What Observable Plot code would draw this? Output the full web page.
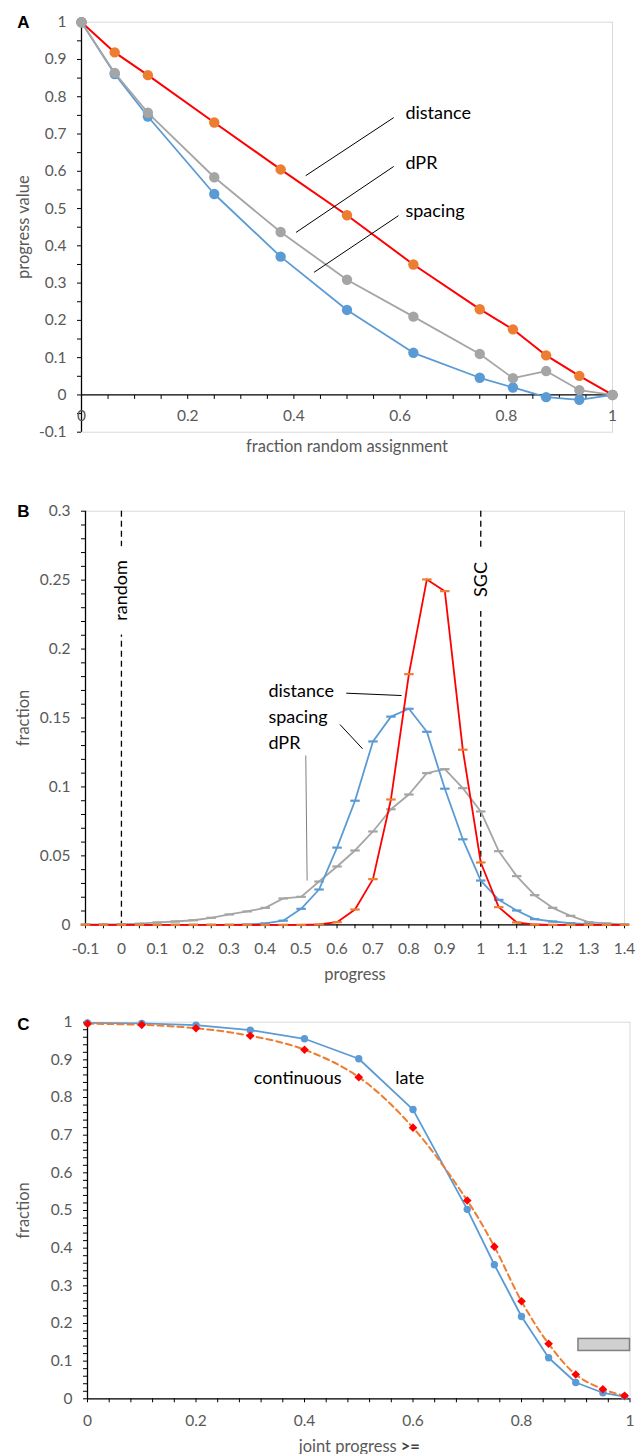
<!DOCTYPE html>
<html><head><meta charset="utf-8">
<script src="https://cdn.jsdelivr.net/npm/d3@7"></script>
<script src="https://cdn.jsdelivr.net/npm/@observablehq/plot@0.6"></script>
<style>
body{margin:0;background:#fff;}
#wrap{width:644px;}
#wrap svg{display:block;}
</style></head><body><div id="wrap"></div>
<script>
// ---------- Panel A data ----------
const fracRandom = [0, 0.0625, 0.125, 0.25, 0.375, 0.5, 0.625, 0.75, 0.8125, 0.875, 0.9375, 1];
const aDistance  = [1, 0.919, 0.858, 0.731, 0.605, 0.482, 0.350, 0.230, 0.176, 0.106, 0.051, 0];
const aDPR       = [1, 0.864, 0.757, 0.584, 0.437, 0.309, 0.210, 0.110, 0.045, 0.064, 0.013, 0];
const aSpacing   = [1, 0.861, 0.747, 0.539, 0.371, 0.228, 0.113, 0.046, 0.020, -0.006, -0.013, 0];
const aLabels  = [{text: "distance", x: 0.610, y: 0.755}, {text: "dPR", x: 0.610, y: 0.621}, {text: "spacing", x: 0.610, y: 0.492}];
const aLeaders = [{x1: 0.588, y1: 0.744, x2: 0.422, y2: 0.588}, {x1: 0.588, y1: 0.613, x2: 0.404, y2: 0.436}, {x1: 0.597, y1: 0.481, x2: 0.438, y2: 0.329}];

// ---------- Panel B data ----------
const bProgress = [-0.1,-0.05,0,0.05,0.1,0.15,0.2,0.25,0.3,0.35,0.4,0.45,0.5,0.55,0.6,0.65,0.7,0.75,0.8,0.85,0.9,0.95,1,1.05,1.1,1.15,1.2,1.25,1.3,1.35,1.4];
const bDistance = [0,0,0,0,0,0,0,0,0,0,0,0,0,0.0003,0.0019,0.0111,0.0331,0.0909,0.1818,0.2505,0.2420,0.1270,0.0452,0.0128,0.0017,0.0002,0,0,0,0,0];
const bSpacing  = [0,0,0,0,0,0,0,0,0,0.0002,0.0010,0.0030,0.0116,0.0256,0.0560,0.0900,0.1330,0.1510,0.1567,0.1400,0.0987,0.0620,0.0321,0.0181,0.0104,0.0041,0.0024,0.0012,0.0004,0,0];
const bDPR      = [0.0002,0.0003,0.0004,0.0008,0.0017,0.0024,0.0033,0.0051,0.0075,0.0097,0.0123,0.0191,0.0203,0.0314,0.0423,0.0539,0.0677,0.0838,0.0945,0.1100,0.1129,0.0991,0.0822,0.0534,0.0353,0.0215,0.0123,0.0065,0.0019,0.0010,0.0003];
const bRefLines = [{x: 0, label: "random", y: 0.2425}, {x: 1, label: "SGC", y: 0.2505}];
const bLabels  = [{text: "distance", x: 0.409, y: 0.1694}, {text: "spacing", x: 0.409, y: 0.1506}, {text: "dPR", x: 0.409, y: 0.1317}];
const bLeaders = [{x1: 0.6256, y1: 0.168, x2: 0.7795, y2: 0.1663, c: "black"}, {x1: 0.608, y1: 0.1453, x2: 0.671, y2: 0.1277, c: "black"}, {x1: 0.513, y1: 0.1228, x2: 0.5168, y2: 0.0321, c: "#7f7f7f"}];

// ---------- Panel C data ----------
const cProgress   = [0, 0.1, 0.2, 0.3, 0.4, 0.5, 0.6, 0.7, 0.75, 0.8, 0.85, 0.9, 0.95, 0.99];
const cLate       = [0.998, 0.997, 0.992, 0.979, 0.956, 0.903, 0.768, 0.503, 0.356, 0.2185, 0.109, 0.0433, 0.016, 0.006];
const cContinuous = [0.996, 0.993, 0.984, 0.964, 0.927, 0.854, 0.720, 0.5265, 0.404, 0.259, 0.146, 0.0645, 0.0255, 0.008];
const cLabels = [{text: "continuous", x: 0.3875, y: 0.850}, {text: "late", x: 0.594, y: 0.850}];
const cBox = [{x1: 0.905, x2: 1.0, y1: 0.127, y2: 0.159}];

// ---------- helpers ----------
const W = 644;
const font = "Lato, 'Open Sans', sans-serif";
const gray = "#595959";
const cBlue = "#5b9bd5", cOrange = "#ed7d31", cGray = "#a5a5a5", cRed = "#ff0000";
const tickFS = 15.5, titleFS = 16.5, noteFS = 18;
const fmt = d => String(Math.round(d * 100) / 100);
const ticks = (a, b, step) => d3.range(Math.round((b - a) / step) + 1).map(i => Math.round((a + i * step) * 1000) / 1000);
const lab = every => d => (Math.abs(Math.round(d * 100) % Math.round(every * 100)) === 0 ? fmt(d) : "");
const tickDown = {draw(ctx) { ctx.moveTo(0, 0); ctx.lineTo(0, 4); }};
const dashSym = {draw(ctx) { ctx.moveTo(-4.75, -1.1); ctx.lineTo(4.75, -1.1); ctx.lineTo(4.75, 1.1); ctx.lineTo(-4.75, 1.1); ctx.closePath(); }};
const diamondSym = {draw(ctx) { const s = 4.3; ctx.moveTo(0, -s); ctx.lineTo(s, 0); ctx.lineTo(0, s); ctx.lineTo(-s, 0); ctx.closePath(); }};
const style = {fontFamily: font, fontSize: tickFS + "px", background: "white", overflow: "visible"};

function panelLetter(t, dx, dy) {
  return Plot.text([t], {frameAnchor: "top-left", dx, dy, fontWeight: "bold", fontSize: 17, fill: "black",
    fontFamily: "'Liberation Sans', Arial, sans-serif", lineAnchor: "middle", textAnchor: "middle"});
}
function yTitle(t, dx) {
  return Plot.text([t], {frameAnchor: "left", dx, rotate: -90, fill: gray, fontSize: titleFS, lineAnchor: "middle", textAnchor: "middle"});
}

// ---------- Panel A ----------
const dataA = fracRandom.map((x, i) => ({x, distance: aDistance[i], dpr: aDPR[i], spacing: aSpacing[i]}));
const xTicksA = ticks(0, 1, 0.05);
const A = Plot.plot({
  width: W, height: 470, marginLeft: 81, marginRight: 32, marginTop: 21.7, marginBottom: 38.3,
  style,
  x: {domain: [0, 1], axis: null}, y: {domain: [-0.1, 1]},
  marks: [
    Plot.frame({stroke: "#d9d9d9"}),
    Plot.ruleY([0], {stroke: "black", strokeWidth: 1.3}),
    Plot.ruleX([0], {stroke: "black", strokeWidth: 1.3}),
    Plot.axisY({ticks: ticks(-0.1, 1, 0.05), tickSize: 4, tickPadding: 11, tickFormat: lab(0.1), fill: gray, stroke: "black", label: null}),
    Plot.dot(xTicksA, {x: d => d, y: 0, symbol: tickDown, stroke: "black", fill: "none", strokeWidth: 1}),
    Plot.text(xTicksA.filter(d => lab(0.2)(d) !== ""), {x: d => d, y: 0, dy: 20.7, text: fmt, fill: gray, lineAnchor: "middle"}),
    Plot.line(dataA, {x: "x", y: "distance", stroke: cRed, strokeWidth: 2}),
    Plot.dot(dataA, {x: "x", y: "distance", r: 5.2, fill: cOrange}),
    Plot.line(dataA, {x: "x", y: "spacing", stroke: cBlue, strokeWidth: 1.8}),
    Plot.dot(dataA, {x: "x", y: "spacing", r: 5.2, fill: cBlue}),
    Plot.line(dataA, {x: "x", y: "dpr", stroke: cGray, strokeWidth: 1.8}),
    Plot.dot(dataA, {x: "x", y: "dpr", r: 5.2, fill: cGray}),
    Plot.link(aLeaders, {x1: "x1", y1: "y1", x2: "x2", y2: "y2", stroke: "black", strokeWidth: 1}),
    Plot.text(aLabels, {x: "x", y: "y", text: "text", textAnchor: "start", fill: "black", fontSize: noteFS}),
    yTitle("progress value", -58),
    Plot.text(["fraction random assignment"], {frameAnchor: "bottom", dy: 15, fill: gray, fontSize: titleFS, lineAnchor: "middle"}),
    panelLetter("A", -58, 0)
  ]
});

// ---------- Panel B ----------
const dataB = bProgress.map((x, i) => ({x, distance: bDistance[i], spacing: bSpacing[i], dpr: bDPR[i]}));
const B = Plot.plot({
  width: W, height: 530, marginLeft: 85, marginRight: 20, marginTop: 40.7, marginBottom: 75.7,
  style,
  x: {domain: [-0.1, 1.4]}, y: {domain: [0, 0.3]},
  marks: [
    Plot.frame({stroke: "#d9d9d9"}),
    Plot.ruleX(bRefLines, {x: "x", stroke: "black", strokeDasharray: "6,4", strokeWidth: 1.3}),
    Plot.text(bRefLines, {x: "x", y: "y", text: "label", rotate: -90, fill: "black", stroke: "white", strokeWidth: 30, paintOrder: "stroke", fontSize: noteFS}),
    Plot.ruleX([-0.1], {stroke: "black", strokeWidth: 1.3}),
    Plot.ruleY([0], {stroke: "black", strokeWidth: 1.3}),
    Plot.axisY({ticks: ticks(0, 0.3, 0.01), tickSize: 4, tickPadding: 11, tickFormat: lab(0.05), fill: gray, stroke: "black", label: null}),
    Plot.axisX({ticks: ticks(-0.1, 1.4, 0.05), tickSize: 4, tickPadding: 13.8, tickFormat: lab(0.1), fill: gray, stroke: "black", label: null}),
    Plot.line(dataB, {x: "x", y: "dpr", stroke: cGray, strokeWidth: 1.8}),
    Plot.dot(dataB, {x: "x", y: "dpr", symbol: dashSym, fill: cGray}),
    Plot.line(dataB, {x: "x", y: "spacing", stroke: cBlue, strokeWidth: 1.8}),
    Plot.dot(dataB, {x: "x", y: "spacing", symbol: dashSym, fill: cBlue}),
    Plot.line(dataB, {x: "x", y: "distance", stroke: cRed, strokeWidth: 1.8}),
    Plot.dot(dataB, {x: "x", y: "distance", symbol: dashSym, fill: cOrange}),
    Plot.link(bLeaders, {x1: "x1", y1: "y1", x2: "x2", y2: "y2", stroke: "c", strokeWidth: 1}),
    Plot.text(bLabels, {x: "x", y: "y", text: "text", textAnchor: "start", fill: "black", fontSize: noteFS}),
    yTitle("fraction", -62),
    Plot.text(["progress"], {frameAnchor: "bottom", dy: 49.7, fill: gray, fontSize: titleFS, lineAnchor: "middle"}),
    panelLetter("B", -62, 0)
  ]
});

// ---------- Panel C ----------
const dataC = cProgress.map((x, i) => ({x, late: cLate[i], continuous: cContinuous[i]}));
const C = Plot.plot({
  width: W, height: 454, marginLeft: 87, marginRight: 14.5, marginTop: 21.7, marginBottom: 55.7,
  style,
  x: {domain: [0, 1]}, y: {domain: [0, 1]},
  marks: [
    Plot.frame({stroke: "#d9d9d9"}),
    Plot.ruleX([0], {stroke: "black", strokeWidth: 1.3}),
    Plot.ruleY([0], {stroke: "black", strokeWidth: 1.3}),
    Plot.axisY({ticks: ticks(0, 1, 0.02), tickSize: 4, tickPadding: 11, tickFormat: lab(0.1), fill: gray, stroke: "black", label: null}),
    Plot.axisX({ticks: ticks(0, 1, 0.04), tickSize: 4, tickPadding: 12.1, tickFormat: lab(0.2), fill: gray, stroke: "black", label: null}),
    Plot.rect(cBox, {x1: "x1", x2: "x2", y1: "y1", y2: "y2", fill: "#d0d0d0", stroke: "#7f7f7f", strokeWidth: 1.5}),
    Plot.line(dataC, {x: "x", y: "late", stroke: cBlue, strokeWidth: 1.8}),
    Plot.dot(dataC, {x: "x", y: "late", r: 3.7, fill: cBlue}),
    Plot.line(dataC, {x: "x", y: "continuous", stroke: cOrange, strokeWidth: 2, strokeDasharray: "6,4", curve: "catmull-rom"}),
    Plot.dot(dataC, {x: "x", y: "continuous", symbol: diamondSym, fill: cRed}),
    Plot.text(cLabels, {x: "x", y: "y", text: "text", fill: "black", fontSize: noteFS}),
    yTitle("fraction", -64),
    Plot.text(["joint progress"], {frameAnchor: "bottom", dx: 38, dy: 47.7, textAnchor: "end", fill: gray, fontSize: titleFS, lineAnchor: "middle"}),
    Plot.text([">="], {frameAnchor: "bottom", dx: 42, dy: 47.7, textAnchor: "start", fill: "#404040", fontWeight: "bold", fontSize: titleFS, lineAnchor: "middle"}),
    panelLetter("C", -64, 2)
  ]
});

const wrap = document.getElementById("wrap");
wrap.append(A, B, C);
</script>
</body></html>
